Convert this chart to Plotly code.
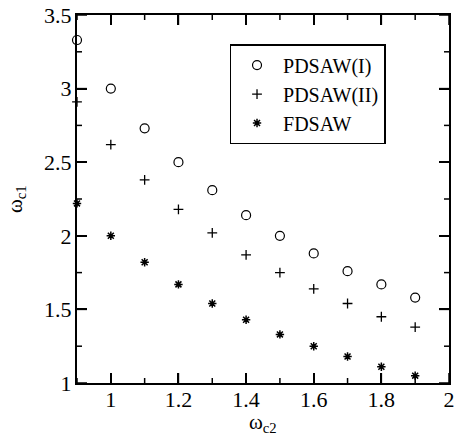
import plotly.graph_objects as go

omega_c2 = [0.9, 1.0, 1.1, 1.2, 1.3, 1.4, 1.5, 1.6, 1.7, 1.8, 1.9]
pdsaw_1 = [3.33, 3.00, 2.73, 2.50, 2.31, 2.14, 2.00, 1.88, 1.76, 1.67, 1.58]
pdsaw_2 = [2.91, 2.62, 2.38, 2.18, 2.02, 1.87, 1.75, 1.64, 1.54, 1.45, 1.38]
fdsaw = [2.22, 2.00, 1.82, 1.67, 1.54, 1.43, 1.33, 1.25, 1.18, 1.11, 1.05]

x_range = [0.9, 2.0]
y_range = [1.0, 3.5]
x_major = [1.0, 1.2, 1.4, 1.6, 1.8, 2.0]
x_minor = [0.9, 1.1, 1.3, 1.5, 1.7, 1.9]
y_major = [1.0, 1.5, 2.0, 2.5, 3.0, 3.5]
y_minor = [1.25, 1.75, 2.25, 2.75, 3.25]
x_ticktext = ["1", "1.2", "1.4", "1.6", "1.8", "2"]
y_ticktext = ["1", "1.5", "2", "2.5", "3", "3.5"]

font = "Liberation Serif, Times New Roman, serif"

W, H = 458, 438
ML, MR, MT, MB = 77, 9, 15, 55
PW, PH = W - ML - MR, H - MT - MB

fig = go.Figure()
fig.add_trace(go.Scatter(x=omega_c2, y=pdsaw_1, mode="markers", name="PDSAW(I)",
                         cliponaxis=False,
                         marker=dict(symbol="circle-open", size=9, color="black", line=dict(width=1.2))))
fig.add_trace(go.Scatter(x=omega_c2, y=pdsaw_2, mode="markers", name="PDSAW(II)",
                         cliponaxis=False,
                         marker=dict(symbol="cross-thin-open", size=7, color="black", line=dict(width=1.3))))
fig.add_trace(go.Scatter(x=omega_c2, y=fdsaw, mode="markers", name="FDSAW",
                         cliponaxis=False,
                         marker=dict(symbol="asterisk-open", size=7, color="black", line=dict(width=1.5))))

axis_common = dict(
    showgrid=False, zeroline=False, showline=True, linecolor="black", linewidth=2,
    mirror="allticks", ticks="inside", ticklen=10, tickwidth=1.5, tickcolor="black",
    automargin=False,
    tickfont=dict(family=font, size=22, color="black"),
)

fig.update_xaxes(range=x_range, tickvals=x_major, ticktext=x_ticktext, ticklabelstandoff=-4,
                 **axis_common)
fig.update_yaxes(range=y_range, tickvals=y_major, ticktext=y_ticktext, ticklabelstandoff=-1,
                 **axis_common)

# tick marks drawn on all four sides through the axis scales
tick_line = dict(color="black", width=1.5)
for vals, length in ((x_major, 10), (x_minor, 5)):
    f = length / PH
    for v in vals:
        fig.add_shape(type="line", xref="x", yref="paper", x0=v, x1=v, y0=0, y1=f, line=tick_line)
        fig.add_shape(type="line", xref="x", yref="paper", x0=v, x1=v, y0=1, y1=1 - f, line=tick_line)
for vals, length in ((y_major, 10), (y_minor, 5)):
    f = length / PW
    for v in vals:
        fig.add_shape(type="line", xref="paper", yref="y", x0=0, x1=f, y0=v, y1=v, line=tick_line)
        fig.add_shape(type="line", xref="paper", yref="y", x0=1, x1=1 - f, y0=v, y1=v, line=tick_line)

fig.add_annotation(text="ω<sub>c2</sub>", xref="paper", yref="paper", x=0.5, y=0,
                   xanchor="center", yanchor="top", yshift=-25, showarrow=False,
                   font=dict(family=font, size=21, color="black"))
fig.add_annotation(text="ω<sub>c1</sub>", xref="paper", yref="paper", x=0, y=0.5,
                   xanchor="right", yanchor="middle", xshift=-46, textangle=-90, showarrow=False,
                   font=dict(family=font, size=21, color="black"))

fig.update_layout(
    width=W, height=H,
    margin=dict(l=ML, r=MR, t=MT, b=MB, autoexpand=False),
    paper_bgcolor="white", plot_bgcolor="rgba(0,0,0,0)",
    font=dict(family=font, color="black"),
    showlegend=True,
    modebar=dict(bgcolor="rgba(0,0,0,0)", color="rgba(0,0,0,0)", activecolor="rgba(0,0,0,0)"),
    legend=dict(x=0.41, y=0.921, xanchor="left", yanchor="top",
                bordercolor="black", borderwidth=1.5, bgcolor="white",
                font=dict(family=font, size=20, color="black"),
                tracegroupgap=0, itemwidth=42),
)

fig.write_html("out.html",
               post_script="document.body.style.margin='0';document.body.style.overflow='hidden';"
                           "document.querySelectorAll('.modebar-container').forEach(function(e){e.style.display='none';});")
